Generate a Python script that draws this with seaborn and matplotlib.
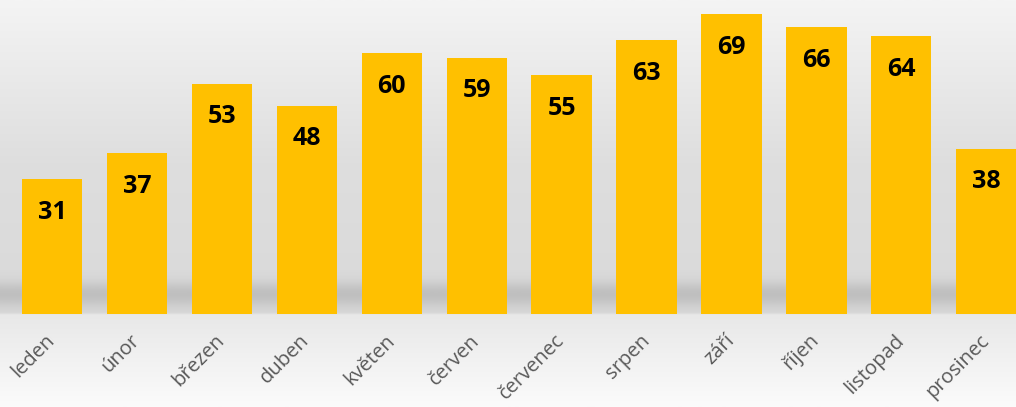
import numpy as np
import pandas as pd
import seaborn as sns
import matplotlib.pyplot as plt
from matplotlib.colors import LinearSegmentedColormap

months = ['leden', 'únor', 'březen', 'duben', 'květen', 'červen',
          'červenec', 'srpen', 'září', 'říjen', 'listopad', 'prosinec']
values = [31, 37, 53, 48, 60, 59, 55, 63, 69, 66, 64, 38]

df = pd.DataFrame({'mesic': months, 'hodnota': values})

sns.set_theme(style='white')
plt.rcParams['font.family'] = ['Open Sans', 'DejaVu Sans']

fig = plt.figure(figsize=(10.16, 4.07), dpi=100)

# background gradient over the whole figure
bg = fig.add_axes([0, 0, 1, 1], zorder=-10)
bg_cmap = LinearSegmentedColormap.from_list(
    'bg', [(0.0, '#fbfbfb'), (0.226, '#e8e8e8'), (0.229, '#d9d9d9'),
           (0.6, '#dedede'), (1.0, '#f4f4f4')])
grad = np.linspace(0, 1, 800).reshape(-1, 1)
bg.imshow(grad, aspect='auto', cmap=bg_cmap, extent=[0, 1, 0, 1], origin='lower')
bg.axis('off')

ax = fig.add_axes([0, 1 - 314 / 407, 1, 314 / 407])
ax.patch.set_alpha(0)

# soft shadow band at the foot of the bars
h = np.linspace(0, 1, 200)
alpha = 0.4 * np.exp(-((h - 0.45) / 0.28) ** 2)
shade = np.zeros((200, 1, 4))
shade[..., :3] = 0.6
shade[:, 0, 3] = alpha
ax.imshow(shade, aspect='auto', origin='lower',
          extent=[-0.62, 11.4, 0, 10], zorder=0)

sns.barplot(data=df, x='mesic', y='hodnota', color='#FFC000', width=0.71,
            saturation=1, linewidth=0, ax=ax, zorder=2)

for p, v in zip(ax.patches, values):
    ax.annotate(str(v), (p.get_x() + p.get_width() / 2, p.get_height()),
                xytext=(0, -33), textcoords='offset pixels',
                ha='center', va='center', fontsize=18, fontweight='bold',
                color='black', zorder=3)

ax.set_xlim(-0.612, 11.35)
ax.set_ylim(0, 72.3)
ax.set_yticks([])
ax.set_xlabel('')
ax.set_ylabel('')
for s in ax.spines.values():
    s.set_visible(False)
ax.tick_params(axis='x', length=0, pad=17, labelsize=14.5, labelcolor='#595959')
for lbl in ax.get_xticklabels():
    lbl.set_rotation(45)
    lbl.set_ha('right')
    lbl.set_va('center')
    lbl.set_rotation_mode('anchor')

fig.savefig('out.png', dpi=100)
